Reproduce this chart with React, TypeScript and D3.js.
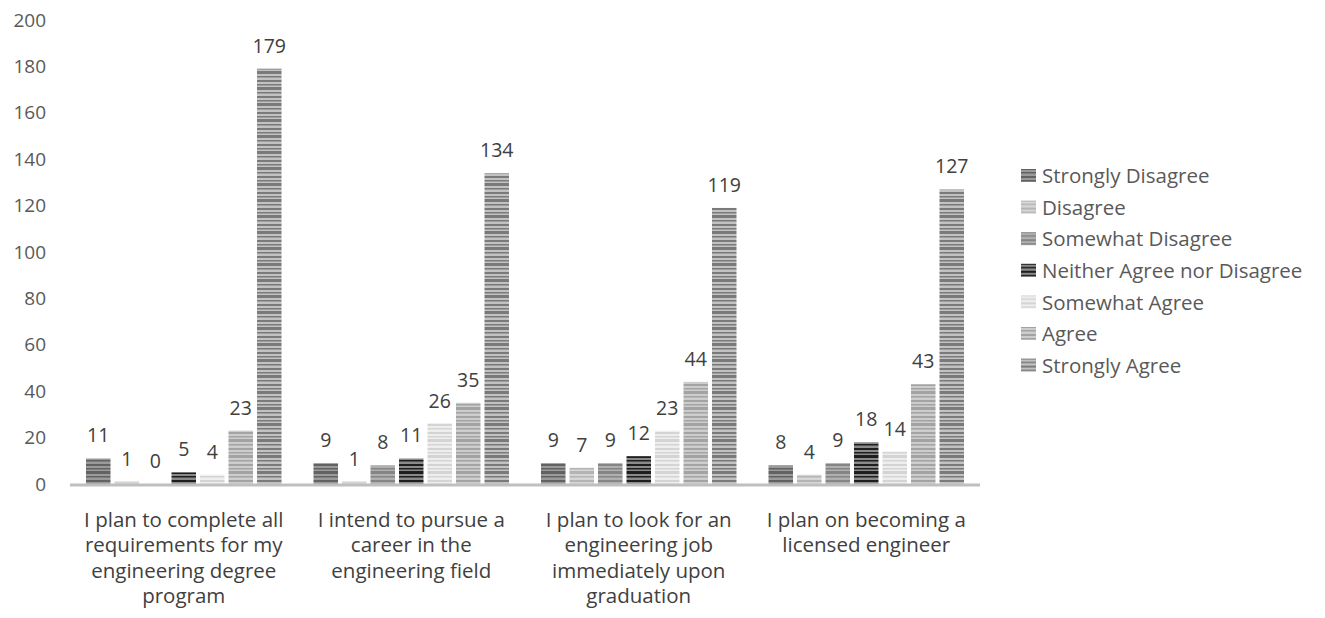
import React, { useEffect, useRef } from 'react'
import * as d3 from 'd3'

const categories = [
  ['I plan to complete all', 'requirements for my', 'engineering degree', 'program'],
  ['I intend to pursue a', 'career in the', 'engineering field'],
  ['I plan to look for an', 'engineering job', 'immediately upon', 'graduation'],
  ['I plan on becoming a', 'licensed engineer'],
]
const seriesNames = ['Strongly Disagree', 'Disagree', 'Somewhat Disagree', 'Neither Agree nor Disagree', 'Somewhat Agree', 'Agree', 'Strongly Agree']
const stronglyDisagree = [11, 9, 9, 8]
const disagree = [1, 1, 7, 4]
const somewhatDisagree = [0, 8, 9, 9]
const neither = [5, 11, 12, 18]
const somewhatAgree = [4, 26, 23, 14]
const agree = [23, 35, 44, 43]
const stronglyAgree = [179, 134, 119, 127]
const yTicks = [0, 20, 40, 60, 80, 100, 120, 140, 160, 180, 200]

// stripe colours per series: [background, stripe]
const stripeColors = [
  ['#9a9a9a', '#626262'],
  ['#d6d6d6', '#b4b4b4'],
  ['#b0b0b0', '#858585'],
  ['#8a8a8a', '#1e1e1e'],
  ['#eeeeee', '#d4d4d4'],
  ['#cdcdcd', '#a3a3a3'],
  ['#c2c2c2', '#7a7a7a'],
]

const App = () => {
  const ref = useRef<SVGSVGElement>(null)

  useEffect(() => {
    const svg = d3.select(ref.current)
    svg.selectAll('*').remove()
    const values = [stronglyDisagree, disagree, somewhatDisagree, neither, somewhatAgree, agree, stronglyAgree]
    const font = "'Open Sans', sans-serif"

    const x0 = d3.scaleBand().domain(d3.range(categories.length).map(String)).range([70, 980]).paddingInner(0).paddingOuter(0)
    const x1 = d3.scaleBand().domain(d3.range(seriesNames.length).map(String)).range([16, x0.bandwidth() - 16]).paddingInner(0.14).paddingOuter(0)
    const y = d3.scaleLinear().domain([0, 200]).range([484, 20])

    // stripe patterns
    const defs = svg.append('defs')
    stripeColors.forEach((c, i) => {
      const p = defs.append('pattern').attr('id', 'pat' + i).attr('patternUnits', 'userSpaceOnUse')
        .attr('width', 8).attr('height', 16)
      p.append('rect').attr('width', 8).attr('height', 16).attr('fill', c[0])
      const stripes = [[0, 2], [4, 1.5], [7, 3], [12, 1.5]]
      stripes.forEach(s => p.append('rect').attr('y', s[0]).attr('width', 8).attr('height', s[1]).attr('fill', c[1]))
    })

    // y axis labels
    svg.append('g').selectAll('text').data(yTicks).enter().append('text')
      .attr('x', 46).attr('y', d => y(d)).attr('dy', '0.35em').attr('text-anchor', 'end')
      .attr('font-family', font).attr('font-size', 19).attr('fill', '#595959').text(d => d)

    // bars
    const groups = svg.append('g').selectAll('g').data(categories).enter().append('g')
      .attr('transform', (d, i) => `translate(${x0(String(i))},0)`)
    groups.each(function (_, ci) {
      const g = d3.select(this)
      values.forEach((vals, si) => {
        const v = vals[ci]
        g.append('rect').attr('x', x1(String(si))!).attr('y', y(v)).attr('width', x1.bandwidth())
          .attr('height', y(0) - y(v)).attr('fill', `url(#pat${si})`)
        g.append('text').attr('x', x1(String(si))! + x1.bandwidth() / 2).attr('y', y(v) - 16)
          .attr('text-anchor', 'middle').attr('font-family', font).attr('font-size', 19.5).attr('fill', '#404040').text(v)
      })
      const lab = g.append('text').attr('text-anchor', 'middle').attr('font-family', font)
        .attr('font-size', 20.5).attr('fill', '#404040')
      categories[ci].forEach((line, li) => {
        lab.append('tspan').attr('x', x0.bandwidth() / 2).attr('y', 527 + li * 25.3).text(line)
      })
    })

    // baseline
    svg.append('line').attr('x1', 70).attr('x2', 980).attr('y1', 485).attr('y2', 485)
      .attr('stroke', '#bfbfbf').attr('stroke-width', 3)

    // legend
    const leg = svg.append('g').selectAll('g').data(seriesNames).enter().append('g')
      .attr('transform', (d, i) => `translate(1021,${176 + i * 31.6})`)
    leg.append('rect').attr('y', -7).attr('width', 15).attr('height', 13).attr('fill', (d, i) => `url(#pat${i})`)
    leg.append('text').attr('x', 21).attr('dy', '0.35em').attr('font-family', font).attr('font-size', 20.5)
      .attr('fill', '#595959').text(d => d)
  }, [])

  return (
    <div style={{ position: 'absolute', left: 0, top: 0 }}>
      <svg ref={ref} width={1325} height={618} style={{ display: 'block', background: '#fff' }} />
    </div>
  )
}

export default App
